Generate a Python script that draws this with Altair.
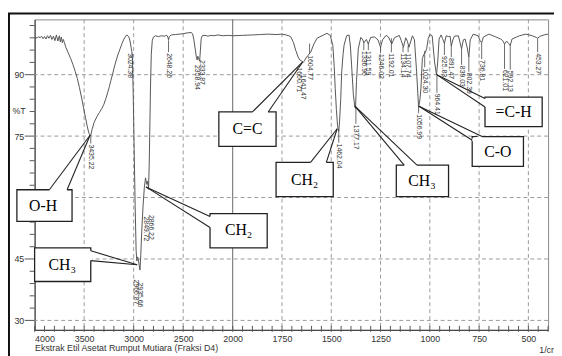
import altair as alt
import pandas as pd

# ---------------- spectrum (wavenumber 1/cm, %T) ----------------
wavenumber = [4000, 3990, 3975, 3960, 3945, 3930, 3915, 3900, 3885, 3870, 3855, 3840, 3825, 3810,
              3795, 3780, 3765, 3750, 3740, 3730, 3720, 3710, 3700, 3685, 3660, 3635, 3612, 3590,
              3569, 3547, 3525, 3505, 3486, 3468, 3453, 3435, 3420, 3400, 3370, 3345, 3320, 3300,
              3280, 3260, 3244, 3230, 3214, 3198, 3181, 3160, 3137, 3118, 3098, 3080, 3071, 3058,
              3045, 3035, 3028, 3024, 3018, 3012, 3005, 2995, 2985, 2975, 2968, 2960, 2952, 2945,
              2936, 2928, 2918, 2905, 2892, 2880, 2872, 2866, 2858, 2850, 2843, 2836, 2830, 2822,
              2812, 2800, 2780, 2750, 2720, 2690, 2665, 2655, 2648, 2640, 2620, 2580, 2540, 2500,
              2460, 2420, 2405, 2392, 2380, 2368, 2359, 2352, 2345, 2334, 2326, 2318, 2308, 2280,
              2250, 2220, 2190, 2150, 2100, 2050, 2000, 1950, 1900, 1860, 1820, 1780, 1750, 1730,
              1715, 1705, 1692, 1680, 1668, 1660, 1652, 1642, 1635, 1628, 1618, 1608, 1604, 1596,
              1588, 1572, 1547, 1522, 1505, 1492, 1485, 1480, 1474, 1468, 1462, 1458, 1452, 1447,
              1440, 1435, 1422, 1410, 1403, 1397, 1388, 1380, 1377, 1372, 1363, 1350, 1340, 1334,
              1322, 1312, 1300, 1280, 1263, 1250, 1240, 1222, 1210, 1193, 1180, 1155, 1145, 1134,
              1122, 1114, 1106, 1088, 1078, 1067, 1057, 1050, 1045, 1038, 1030, 1024, 1016, 1008,
              1000, 988, 976, 966, 960, 953, 943, 935, 926, 917, 905, 897, 891, 883, 875, 855, 845,
              839, 830, 821, 810, 802, 795, 780, 755, 745, 737, 728, 700, 665, 640, 630, 621, 610,
              600, 592, 583, 560, 545, 513, 480, 460, 453, 440, 420, 405, 400]
transmittance = [99.0, 99.2, 98.9, 99.3, 99.0, 99.4, 98.8, 99.3, 98.7, 99.5, 98.9, 99.6, 98.6, 99.4,
                 98.3, 99.7, 98.2, 99.5, 98.0, 99.2, 97.8, 98.6, 97.9, 96.7, 95.3, 93.9, 92.4, 90.8,
                 89.1, 86.8, 84.3, 81.8, 79.5, 77.3, 75.8, 75.0, 76.6, 78.3, 79.8, 80.8, 81.8, 82.8,
                 84.2, 85.8, 87.2, 88.6, 90.0, 91.6, 93.1, 94.8, 96.3, 97.6, 98.7, 99.4, 99.7, 99.5,
                 99.0, 98.0, 97.0, 96.3, 95.6, 93.5, 86.0, 72.0, 58.0, 47.0, 44.5, 45.5, 44.8, 43.5,
                 42.3, 46.0, 52.0, 58.0, 62.5, 64.8, 63.8, 63.2, 64.0, 62.0, 68.0, 78.0, 87.0, 95.0,
                 98.3, 99.2, 99.5, 99.3, 99.5, 99.4, 99.6, 99.2, 98.5, 99.3, 99.7, 99.8, 99.9, 100.0,
                 100.2, 100.3, 100.0, 98.5, 96.5, 94.5, 93.6, 94.5, 94.0, 93.3, 96.0, 98.8, 99.5, 99.6,
                 99.4, 99.6, 99.5, 99.7, 99.5, 99.6, 99.5, 99.6, 99.7, 99.8, 99.9, 99.8, 99.9, 99.7,
                 99.5, 99.2, 97.9, 95.9, 94.3, 93.6, 93.4, 93.0, 93.5, 94.1, 94.7, 95.3, 95.5, 96.5,
                 97.5, 98.9, 99.5, 100.1, 99.6, 97.1, 92.0, 86.7, 81.5, 77.5, 76.2, 78.5, 84.0, 90.7,
                 95.0, 97.2, 99.5, 99.7, 97.0, 92.4, 85.2, 82.0, 81.8, 88.3, 96.3, 99.1, 98.5, 97.8,
                 98.6, 97.5, 99.1, 99.2, 98.5, 96.7, 98.5, 99.6, 99.2, 97.5, 99.0, 99.6, 98.3, 96.7,
                 99.0, 98.2, 96.7, 99.5, 98.5, 90.7, 82.0, 84.0, 86.7, 93.9, 95.0, 95.3, 96.3, 98.8,
                 99.8, 99.5, 93.1, 89.9, 93.1, 98.7, 99.7, 98.8, 97.6, 99.5, 99.3, 99.4, 97.0, 98.5,
                 99.4, 99.5, 97.5, 96.3, 98.5, 98.7, 96.5, 94.3, 98.5, 99.9, 99.5, 98.3, 97.8, 99.2,
                 99.9, 99.2, 98.7, 98.3, 97.5, 98.2, 97.6, 97.1, 98.7, 99.2, 99.5, 99.9, 99.5, 99.1,
                 98.9, 99.4, 99.7, 99.9, 99.8]

# ---------------- peak labels ----------------
peak_text = ["3435.22", "3024.38", "2966.87", "2935.66", "2849.72", "2866.22", "2648.26",
             "2358.94", "2333.87", "1660.71", "1641.47", "1604.77", "1462.04", "1377.17",
             "1336.96", "1311.59", "1246.02", "1192.01", "1134.14", "1107.74", "1056.99",
             "1024.30", "964.41", "925.83", "891.47", "839.03", "802.39", "736.81", "621.01",
             "592.13", "453.27"]
peak_x = [3433, 3038, 2980, 2935, 2878, 2828, 2648, 2360, 2310, 1663, 1642, 1610, 1462, 1375,
          1335, 1312, 1250, 1195, 1136, 1110, 1057, 1026, 964, 926, 891, 839, 802, 737, 621, 592, 453]
peak_from = [74.8, 95.5, 40.2, 39.5, 55.6, 56.0, 98.4, 92.6, 93.8, 92.0, 90.2, 97.6, 76.5, 82.0,
             97.9, 97.7, 96.8, 98.9, 96.8, 97.0, 82.0, 95.8, 89.7, 97.7, 97.2, 96.3, 94.3, 97.8,
             97.5, 97.1, 98.9]
peak_top = [73.2, 95.5, 40.2, 39.5, 55.6, 56.0, 95.5, 92.6, 93.8, 92.0, 90.2, 95.0, 73.4, 78.0,
            96.0, 96.0, 95.3, 95.5, 95.5, 95.5, 80.6, 91.8, 85.6, 94.8, 94.3, 92.4, 90.7, 93.8,
            91.4, 91.2, 95.5]

# ---------------- callouts ----------------
call_text = ["O-H", "CH\u2083", "CH\u2082", "C=C", "CH\u2082", "CH\u2083", "C-O", "=C-H"]
call_tx = [3915, 3721, 1970, 1925, 1635, 1040, 655, 575]
call_ty = [58.0, 43.6, 52.0, 76.8, 64.3, 64.0, 71.2, 80.9]
box_x1 = [4179, 4000, 2229, 2140, 1780, 1170, 785, 720]
box_x2 = [3622, 3433, 1825, 1780, 1490, 905, 525, 430]
box_y1 = [61.9, 47.7, 56.1, 80.9, 68.6, 67.9, 74.9, 84.5]
box_y2 = [54.2, 39.5, 47.7, 72.5, 60.2, 60.2, 67.6, 77.3]
base1_x = [3851, 3433, 2229, 1900, 1605, 1130, 785, 720]
base1_y = [61.9, 47.0, 55.4, 80.9, 68.6, 67.9, 74.0, 84.2]
base2_x = [3672, 3433, 2229, 1820, 1525, 1065, 735, 720]
base2_y = [61.9, 44.6, 52.7, 80.9, 68.6, 67.9, 74.9, 82.1]
tip_x = [3440, 2965, 2876, 1645, 1470, 1380, 1055, 965]
tip_y = [75.2, 43.6, 62.6, 93.1, 76.8, 82.3, 82.3, 90.0]

# ---------------- axes ----------------
x_labels = [4000, 3500, 3000, 2500, 2000, 1750, 1500, 1250, 1000, 750, 500]
x_dashed = [3500, 3000, 2500, 1750, 1500, 1250, 1000, 750, 500]
x_solid = [2000]
x_minor = list(range(4000, 2000, -100)) + list(range(2000, 399, -50))
y_grid = [30, 45, 60, 75, 90]
y_labels = [30, 45, 75, 90]
y_minor = [v for v in range(30, 103, 3) if v not in y_grid]

W, H = 521, 315
xs = alt.Scale(domain=[4000, 2000, 400], range=[0, 201, W], nice=False, zero=False)
ys = alt.Scale(domain=[27.7, 103.5], nice=False, zero=False)
FONT = "Liberation Sans"

axX = alt.Axis(
    values=x_labels, format="d", grid=False, ticks=False, labelFontSize=9, labelFont=FONT,
    labelColor="#333", labelPadding=5, domainColor="#333",
    title="Ekstrak Etil Asetat Rumput Mutiara (Fraksi D4)", titleFont=FONT, titleFontSize=9,
    titleFontWeight="normal", titleColor="#333", titleX=0, titleY=18, titleAlign="left",
    titleAnchor="start", titleBaseline="middle")
axY = alt.Axis(
    values=y_labels, grid=False, ticks=False, labelFontSize=9, labelFont=FONT,
    labelColor="#333", labelPadding=11, domainColor="#333", title="%T",
    titleFont=FONT, titleFontSize=9, titleFontWeight="normal", titleColor="#333",
    titleAngle=0, titleX=-23, titleY=92, titleAlign="left", titleBaseline="middle")


def X(f):
    return alt.X(f, scale=xs, axis=axX)


def Y(f):
    return alt.Y(f, scale=ys, axis=axY)


spec_df = pd.DataFrame({"wn": wavenumber, "T": transmittance, "i": range(len(wavenumber))})

gx_d = alt.Chart(pd.DataFrame({"gxd": x_dashed})).mark_rule(
    color="#9a9a9a", strokeDash=[4, 3], strokeWidth=1).encode(x=X("gxd:Q"))
gx_s = alt.Chart(pd.DataFrame({"gxs": x_solid})).mark_rule(
    color="#666666", strokeWidth=1).encode(x=X("gxs:Q"))
gy = alt.Chart(pd.DataFrame({"gyv": y_grid})).mark_rule(
    color="#9a9a9a", strokeDash=[4, 3], strokeWidth=1).encode(y=Y("gyv:Q"))

spectrum = alt.Chart(spec_df).mark_line(color="#555555", strokeWidth=1).encode(
    x=X("wn:Q"), y=Y("T:Q"), order="i:Q")

tx = alt.Chart(pd.DataFrame({"txv": x_minor})).mark_rule(color="#555", strokeWidth=1).encode(
    x=X("txv:Q"), y=alt.value(H - 4), y2=alt.value(H + 2))
ty_major = alt.Chart(pd.DataFrame({"tyM": y_grid})).mark_rule(color="#555", strokeWidth=1).encode(
    y=Y("tyM:Q"), x=alt.value(-10), x2=alt.value(0))
ty_minor = alt.Chart(pd.DataFrame({"tym": y_minor})).mark_rule(color="#555", strokeWidth=1).encode(
    y=Y("tym:Q"), x=alt.value(-5), x2=alt.value(0))

pk_df = pd.DataFrame({"ptxt": peak_text, "px": peak_x, "py1": peak_from, "py2": peak_top})
pk_lines = alt.Chart(pk_df).mark_rule(color="#444", strokeWidth=0.8).encode(
    x=X("px:Q"), y=Y("py1:Q"), y2="py2:Q")
pk_text = alt.Chart(pk_df).mark_text(angle=90, align="left", baseline="middle", fontSize=7,
                                     font=FONT, color="#333", dx=1).encode(
    x=X("px:Q"), y=Y("py2:Q"), text="ptxt:N")

wl = []
for i in range(len(call_text)):
    wl.append({"wx": base1_x[i], "wy": base1_y[i], "wx2": tip_x[i], "wy2": tip_y[i]})
    wl.append({"wx": base2_x[i], "wy": base2_y[i], "wx2": tip_x[i], "wy2": tip_y[i]})
wl_df = pd.DataFrame(wl)
gap_df = pd.DataFrame({"gx": base1_x, "gy": base1_y, "gx2": base2_x, "gy2": base2_y})
box_df = pd.DataFrame({"bx": box_x1, "bx2": box_x2, "by": box_y1, "by2": box_y2})
ct_df = pd.DataFrame({"ct": call_text, "cx": call_tx, "cy": call_ty})

boxes = alt.Chart(box_df).mark_rect(fill="white", stroke="#222", strokeWidth=1.3).encode(
    x=X("bx:Q"), x2="bx2:Q", y=Y("by:Q"), y2="by2:Q")
gaps = alt.Chart(gap_df).mark_rule(color="white", strokeWidth=3).encode(
    x=X("gx:Q"), x2="gx2:Q", y=Y("gy:Q"), y2="gy2:Q")
wedges = alt.Chart(wl_df).mark_rule(color="#222", strokeWidth=1.1).encode(
    x=X("wx:Q"), x2="wx2:Q", y=Y("wy:Q"), y2="wy2:Q")
ctext = alt.Chart(ct_df).mark_text(font="Liberation Serif", fontSize=16, color="black",
                                   align="center", baseline="middle").encode(
    x=X("cx:Q"), y=Y("cy:Q"), text="ct:N")

one = pd.DataFrame({"a": [0]})
frame = alt.Chart(one).mark_rect(filled=False, stroke="#111", strokeWidth=2).encode(
    x=alt.value(-26), x2=alt.value(540), y=alt.value(-6), y2=alt.value(345))
unit = alt.Chart(one).mark_text(text="1/cm", font=FONT, fontSize=9, color="#333",
                                align="left", baseline="middle").encode(
    x=alt.value(512), y=alt.value(335))

chart = alt.layer(
    spectrum.mark_line(strokeOpacity=0), gx_d, gx_s, gy, spectrum, tx, ty_major, ty_minor,
    pk_lines, pk_text, boxes, gaps, wedges, ctext, frame, unit
).properties(
    width=W, height=H,
    autosize=alt.AutoSizeParams(type="none"),
    padding={"left": 27, "top": 9, "right": 6, "bottom": 24},
    background="white",
).configure_view(stroke="#888", strokeWidth=1)

chart.save("out.html", embed_options={"renderer": "svg", "actions": False})
